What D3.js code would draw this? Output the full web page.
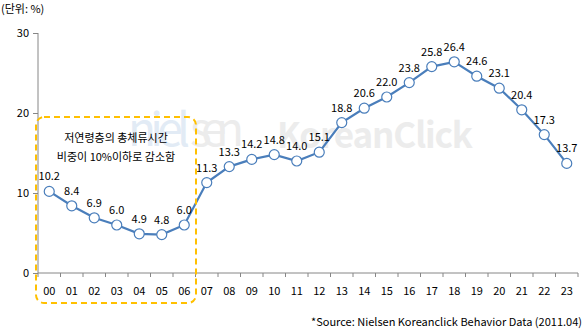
<!DOCTYPE html>
<html><head><meta charset="utf-8">
<script src="https://cdn.jsdelivr.net/npm/d3@7"></script>
<style>body{margin:0;background:#fff}svg{display:block}text{font-family:"Noto Sans CJK KR","Open Sans",sans-serif}</style>
</head><body><svg id="c" width="587" height="333"></svg>
<script>
const categories = ["00","01","02","03","04","05","06","07","08","09","10","11","12","13","14","15","16","17","18","19","20","21","22","23"];
const values = [10.2,8.4,6.9,6.0,4.9,4.8,6.0,11.3,13.3,14.2,14.8,14.0,15.1,18.8,20.6,22.0,23.8,25.8,26.4,24.6,23.1,20.4,17.3,13.7];
const yTicks = [0,10,20,30];
const unitLabel = "(단위: %)";
const noteLines = ["저연령층의 총체류시간","비중이 10%이하로 감소함"];
const sourceText = "*Source: Nielsen Koreanclick Behavior Data (2011.04)";

const svg = d3.select("#c");
const x = d3.scaleBand().domain(categories).range([38,578]).padding(0);
const y = d3.scaleLinear().domain([0,30]).range([273,33]);
const axisColor = "#868686";
const blue = "#4a7ebb";

// watermark
const wm = svg.append("g").attr("opacity",1);
wm.append("text").attr("x",128).attr("y",146).attr("font-family","DejaVu Serif, serif").attr("font-size",46)
  .attr("fill","#e2ebf5").attr("textLength",62).text("niel");
wm.append("text").attr("x",190).attr("y",146).attr("font-family","DejaVu Serif, serif").attr("font-size",46)
  .attr("fill","#ececec").attr("textLength",54).text("sen");
wm.append("text").attr("x",277).attr("y",148).attr("font-family","Liberation Sans, Arial, sans-serif").attr("font-weight","bold").attr("font-size",35)
  .attr("fill","#ececec").attr("textLength",196).text("KoreanClick");

// unit label
svg.append("text").attr("x",1).attr("y",13).attr("font-size",11).attr("fill","#000").text(unitLabel);

// y axis
const gy = svg.append("g").attr("transform","translate(38,0)")
  .call(d3.axisLeft(y).tickValues(yTicks).tickSize(5).tickPadding(4).tickFormat(d3.format("d")));
gy.selectAll("path,line").attr("stroke",axisColor);
gy.select(".domain").attr("d","M0,33V273");
gy.selectAll("text").attr("font-size",11).attr("fill","#000").attr("font-family","Open Sans, sans-serif");

// x axis
const gx = svg.append("g").attr("transform","translate(0,273)")
  .call(d3.axisBottom(x).tickSize(0).tickPadding(14));
gx.select(".domain").attr("stroke",axisColor).attr("d","M38,0H578");
gx.selectAll("text").attr("font-size",11).attr("fill","#000").attr("font-family","Open Sans, sans-serif");
// tick marks between categories
const bounds = categories.map(c=>x(c)).concat([x.range()[1]]);
svg.append("g").selectAll("line").data(bounds).join("line")
  .attr("x1",d=>d).attr("x2",d=>d).attr("y1",273).attr("y2",277).attr("stroke",axisColor);

const cx = d=>x(d)+x.bandwidth()/2;

// line
svg.append("path").datum(values.map((v,i)=>[cx(categories[i]),y(v)]))
  .attr("d",d3.line()).attr("fill","none").attr("stroke",blue).attr("stroke-width",2.2);
svg.append("g").selectAll("circle").data(values).join("circle")
  .attr("cx",(d,i)=>cx(categories[i])).attr("cy",d=>y(d)).attr("r",5)
  .attr("fill","#fff").attr("stroke",blue).attr("stroke-width",1.2);
svg.append("g").selectAll("text").data(values).join("text")
  .attr("x",(d,i)=>cx(categories[i])).attr("y",d=>y(d)-11).attr("text-anchor","middle")
  .attr("font-size",11).attr("fill","#000").attr("font-family","Open Sans, sans-serif")
  .text(d=>d.toFixed(1));

// dashed box
svg.append("rect").attr("x",36).attr("y",117).attr("width",160).attr("height",186).attr("rx",8)
  .attr("fill","none").attr("stroke","#ffc000").attr("stroke-width",2).attr("stroke-dasharray","6,4");
svg.append("g").selectAll("text").data(noteLines).join("text")
  .attr("x",116).attr("y",(d,i)=>142+i*19).attr("text-anchor","middle").attr("font-size",11).attr("fill","#000").text(d=>d);

// source
svg.append("text").attr("x",582).attr("y",326).attr("text-anchor","end").attr("font-size",11)
  .attr("font-family","Open Sans, sans-serif").attr("fill","#000").text(sourceText);
</script></body></html>
